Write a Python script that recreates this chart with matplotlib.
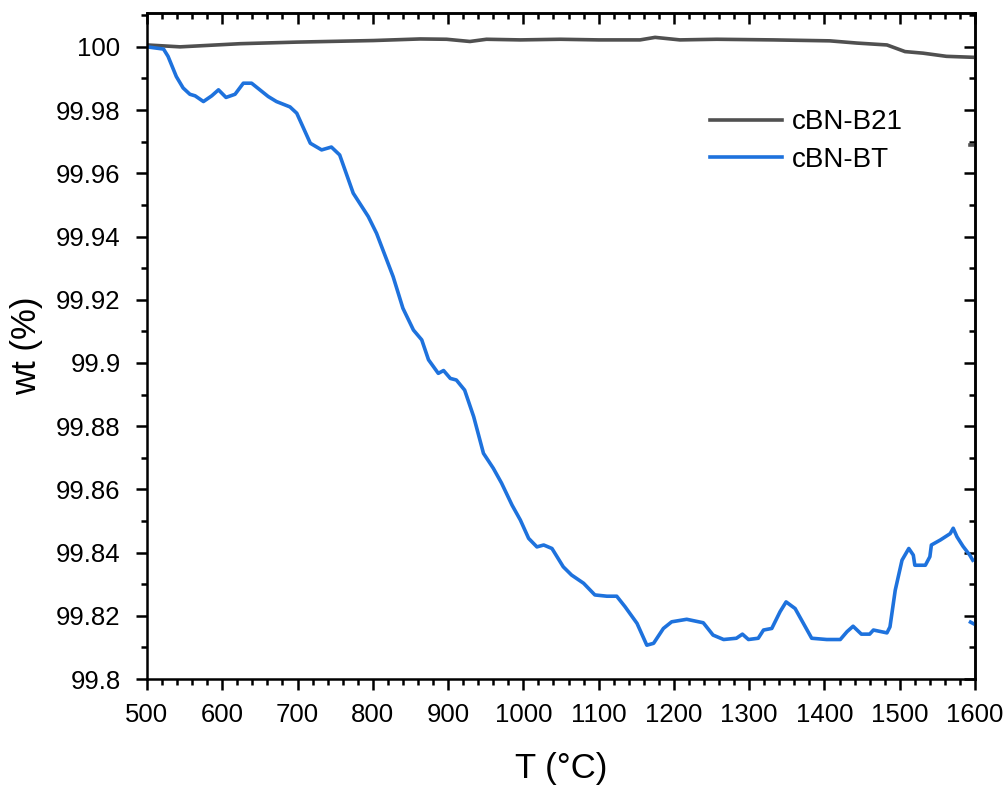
import numpy as np
import matplotlib
matplotlib.use("Agg")
import matplotlib.pyplot as plt
from matplotlib.ticker import MultipleLocator

plt.rcParams['font.family'] = ['Liberation Sans', 'DejaVu Sans']

# cBN-B21 (grey)
t_b21 = [500, 544, 624, 699, 801, 863, 898, 929, 951, 996, 1049, 1100, 1155, 1175,
         1208, 1257, 1332, 1407, 1443, 1483, 1507, 1531, 1562, 1597]
wt_b21 = [100.0006, 100.0, 100.001, 100.0015, 100.002, 100.0025, 100.0024, 100.0017,
          100.0024, 100.0022, 100.0024, 100.0022, 100.0022, 100.003, 100.0022, 100.0024,
          100.0022, 100.0019, 100.0012, 100.0006, 99.9985, 99.998, 99.997, 99.9967]
t_b21_end = [1593, 1598]
wt_b21_end = [99.969, 99.969]

# cBN-BT (blue)
t_bt = [500, 522, 528, 539, 548, 557, 564, 575, 586, 595, 605, 617, 628, 639, 650,
        661, 672, 690, 699, 717, 732, 745, 756, 774, 794, 805, 827, 840, 854, 865,
        874, 887, 894, 903, 911, 922, 934, 947, 960, 971, 985, 996, 1007, 1018, 1027,
        1038, 1053, 1064, 1080, 1095, 1111, 1124, 1135, 1151, 1164, 1173, 1186, 1197,
        1217, 1239, 1252, 1266, 1283, 1291, 1299, 1312, 1319, 1330, 1341, 1349, 1361,
        1372, 1383, 1403, 1421, 1430, 1438, 1449, 1460, 1465, 1483, 1487, 1494, 1503,
        1512, 1518, 1520, 1534, 1540, 1542, 1554, 1567, 1571, 1576, 1584, 1593, 1597]
wt_bt = [100.0, 99.9993, 99.997, 99.9906, 99.987, 99.985, 99.9845, 99.9827, 99.9845,
         99.9864, 99.984, 99.985, 99.9885, 99.9885, 99.9864, 99.9843, 99.9827, 99.981,
         99.979, 99.9695, 99.9674, 99.9683, 99.9658, 99.9537, 99.9463, 99.941, 99.9273,
         99.9173, 99.9104, 99.9073, 99.901, 99.8967, 99.8976, 99.8951, 99.8946, 99.8914,
         99.883, 99.8714, 99.8667, 99.862, 99.855, 99.8503, 99.8445, 99.8418, 99.8424,
         99.8413, 99.8355, 99.8329, 99.8303, 99.8266, 99.8262, 99.8262, 99.8229, 99.8176,
         99.8107, 99.8113, 99.816, 99.8181, 99.8189, 99.8178, 99.8139, 99.8125, 99.8129,
         99.8142, 99.8125, 99.8129, 99.8155, 99.816, 99.8213, 99.8244, 99.8223, 99.8176,
         99.8129, 99.8125, 99.8125, 99.815, 99.8167, 99.8142, 99.8142, 99.8155, 99.8146,
         99.8165, 99.8281, 99.8376, 99.8413, 99.8392, 99.836, 99.836, 99.8387, 99.8424,
         99.844, 99.846, 99.8477, 99.845, 99.842, 99.8392, 99.8376]
t_bt_end = [1594, 1598]
wt_bt_end = [99.818, 99.8175]

grey = '#505050'
blue = '#1e72dd'
lw = 2.6
sw = 1.8

fig = plt.figure(figsize=(10.08, 7.85), dpi=100)
ax = fig.add_axes([0.1458, 0.135, 0.8215, 0.8484])

ax.plot(t_b21, wt_b21, color=grey, lw=lw, label='cBN-B21')
ax.plot(t_bt, wt_bt, color=blue, lw=lw, label='cBN-BT')
ax.plot(t_b21_end, wt_b21_end, color=grey, lw=lw)
ax.plot(t_bt_end, wt_bt_end, color=blue, lw=lw)

ax.set_xlim(500, 1600)
ax.set_ylim(99.8, 100.0107)
ax.xaxis.set_major_locator(MultipleLocator(100))
ax.xaxis.set_minor_locator(MultipleLocator(20))
ax.yaxis.set_minor_locator(MultipleLocator(0.01))
ax.set_yticks(np.arange(99.8, 100.001, 0.02))
ax.set_yticklabels(['99.8', '99.82', '99.84', '99.86', '99.88', '99.9',
                    '99.92', '99.94', '99.96', '99.98', '100'])

for side in ax.spines.values():
    side.set_linewidth(sw)

ax.tick_params(which='both', direction='out', width=sw, labelsize=18.5)
ax.tick_params(axis='x', pad=9)
ax.tick_params(axis='y', pad=11)
ax.tick_params(which='major', length=8)
ax.tick_params(which='minor', length=4.5)

# inward ticks on top and right
top = ax.secondary_xaxis('top')
top.set_xticks(np.arange(500, 1601, 100))
top.xaxis.set_minor_locator(MultipleLocator(20))
top.tick_params(which='both', direction='in', width=sw, labeltop=False)
top.tick_params(which='major', length=8)
top.tick_params(which='minor', length=4.5)
right = ax.secondary_yaxis('right')
right.set_yticks(np.arange(99.8, 100.001, 0.02))
right.yaxis.set_minor_locator(MultipleLocator(0.01))
right.tick_params(which='both', direction='in', width=sw, labelright=False)
right.tick_params(which='major', length=8)
right.tick_params(which='minor', length=4.5)
for s in list(top.spines.values()) + list(right.spines.values()):
    s.set_linewidth(sw)

ax.set_xlabel('T (°C)', fontsize=25, labelpad=18)
ax.set_ylabel('wt (%)', fontsize=25, labelpad=9)

ax.legend(loc='upper left', bbox_to_anchor=(0.666, 0.872), frameon=False,
          fontsize=20, handlelength=2.6, handletextpad=0.35, labelspacing=0.4,
          borderaxespad=0)

fig.savefig('out.png', dpi=100)
